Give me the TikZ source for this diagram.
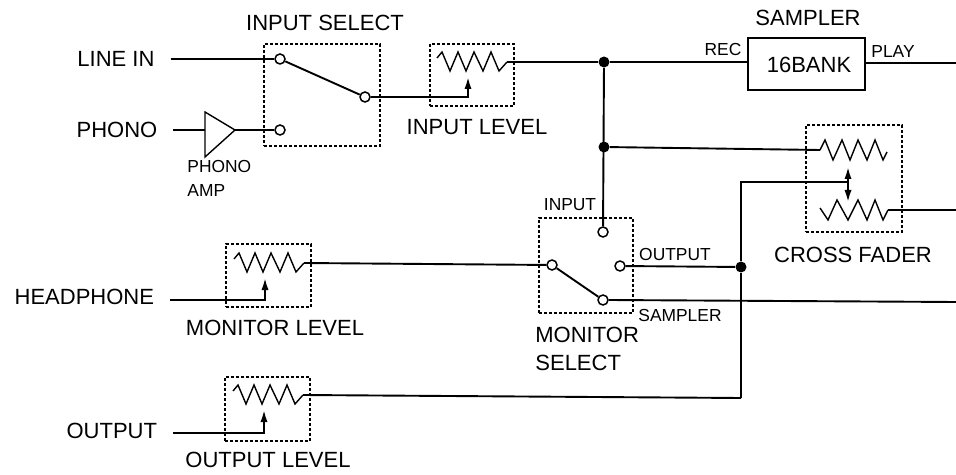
\documentclass[tikz,border=0pt]{standalone}
\usepackage{fontspec}
\setsansfont{Liberation Sans}
\usetikzlibrary{arrows,calc,arrows.meta,positioning}

\tikzset{
    wire/.style={line width=0.95pt},
    zig/.style={line width=0.7pt, line join=miter},
    unit/.style={draw, line width=0.85pt, dash pattern=on 1.5pt off 1pt, inner sep=0},
    contact/.style={circle, draw, line width=0.75pt, fill=white, minimum size=5pt, inner sep=0},
    junction/.style={circle, fill=black, minimum size=5.5pt, inner sep=0},
    big/.style={font=\sffamily\fontsize{11}{13}\selectfont, inner sep=0},
    small/.style={font=\sffamily\fontsize{8.7}{11}\selectfont, inner sep=0},
    source/.style={big, outer xsep=8pt},
}

\begin{document}
\begin{tikzpicture}[>={Latex[length=6pt,width=3.6pt]}, x=0.5pt, y=-0.5pt]
    \useasboundingbox (0,0) rectangle (956,475);
    % zigzag with lead-in (#1 in), lead-out (#1 out) and wiper point (#1 w)
    \newcommand{\resistor}[3]{
        \coordinate (#1 in) at (#2,#3);
        \coordinate (#1 out) at ($(#1 in) + (70,4)$);
        \coordinate (#1 w) at ($(#1 in) + (31,19)$);
        \draw[zig] (#1 in) -- ++(5,-6) -- ++(8,19) -- ++(8,-19) -- ++(8,19) -- ++(8,-19)
            -- ++(9,19) -- ++(8,-19) -- ++(8,19) -- (#1 out);
    }

    % dashed units
    \node[unit, minimum width=58pt, minimum height=51pt] (inselect) at (322,95) {};
    \node[unit, minimum width=42pt, minimum height=31pt] (inlevel) at (472,75) {};
    \node[unit, minimum width=48pt, minimum height=53.5pt] (fader) at (854,178.5) {};
    \node[unit, minimum width=47pt, minimum height=47.5pt] (monselect) at (586,265.5) {};
    \node[unit, minimum width=42.5pt, minimum height=31.5pt] (monlevel) at (268.5,275.5) {};
    \node[unit, minimum width=42.5pt, minimum height=32pt] (outlevel) at (267.5,409) {};

    % input section
    \node[source] (linein) at (116,59) {LINE IN};
    \node[source] (phono) at (117,130) {PHONO};
    \node[small, align=left, anchor=north west] (phonoamp) at (187,160) {PHONO\\[1pt]AMP};
    \node[big] (inselecttxt) at (325,23) {INPUT SELECT};
    \node[contact] (isline) at (280,59) {};
    \node[contact] (isphono) at (280,130) {};
    \node[contact] (isout) at (365,97) {};
    \coordinate (ampin) at (205,130);
    \coordinate (amptip) at (235,130);
    \draw[zig] (ampin |- 0,112) -- (amptip) -- (ampin |- 0,157) -- cycle;
    \draw[wire] (linein) -- (isline);
    \draw[wire] (phono) -- (ampin);
    \draw[wire] (amptip) -- (isphono);
    \draw[wire] (isline) -- (isout);

    \resistor{il}{437}{58}
    \node[big] (inleveltxt) at (477,127) {INPUT LEVEL};
    \draw[wire,->] (isout) -| (il w);

    % sampler
    \node[draw, line width=0.85pt, minimum width=58.5pt, minimum height=26pt, inner sep=0] (bank) at (806.5,64) {};
    \node[big] (banktxt) at (809,65) {16BANK};
    \node[big] (samplertxt) at (808,18) {SAMPLER};
    \node[small] (rectxt) at (723,50) {REC};
    \node[small] (playtxt) at (893,52) {PLAY};
    \coordinate (playout) at (956,63);
    \coordinate (bankin) at (bank.west |- 0,62);
    \node[junction] (jtop) at (604,62) {};
    \node[junction] (jmid) at (604,147) {};
    \draw[wire] (il out) -- (jtop);
    \draw[wire] (jtop) -- (bankin);
    \draw[wire] (bank.east |- playout) -- (playout);

    % cross fader
    \coordinate (cfin) at (820,150);
    \coordinate (cfout) at (888,210);
    \coordinate (cftap) at (848,182);
    \coordinate (cfup) at (848,167);
    \coordinate (cfdown) at (848,202);
    \coordinate (cfright) at (956,210);
    \draw[zig] (cfin) -- ++(5,-10) -- ++(8,20) -- ++(9,-20) -- ++(8,20) -- ++(8,-20) -- ++(9,20) -- ++(8,-20) -- ++(8,20) -- ++(4,-8);
    \draw[zig] (820,208) -- ++(8,12) -- ++(9,-20) -- ++(11,20) -- ++(10,-20) -- ++(9,20) -- ++(8,-20) -- ++(8,20) -- (cfout);
    \draw[wire] (jmid) -- (cfin);
    \draw[wire] (cfout) -- (cfright);
    \draw[wire,<->] (cfup) -- (cfdown);
    \node[big] (fadertxt) at (853,255) {CROSS FADER};

    % monitor select
    \node[contact] (msinput) at (603,232) {};
    \node[contact] (msin) at (552,265) {};
    \node[contact] (msoutput) at (620,266) {};
    \node[contact] (mssampler) at (603,300) {};
    \node[junction] (jout) at (741,267) {};
    \coordinate (sampout) at (956,302);
    \coordinate (outbend) at (741,398);
    \draw[wire] (jtop) -- (msinput);
    \draw[wire] (msin) -- (mssampler);
    \draw[wire] (msoutput) -- (jout);
    \draw[wire] (mssampler.east) -- (sampout);
    \draw[wire] (jout) |- (cftap);
    \draw[wire] (jout) -- (outbend);
    \node[small] (inputtxt) at (570,205) {INPUT};
    \node[small] (outputtxt) at (675,255) {OUTPUT};
    \node[small] (samptxt) at (680,316) {SAMPLER};
    \node[big, align=left, anchor=north west] (monseltxt) at (535,327) {MONITOR\\[1pt]SELECT};

    % monitor and output level
    \node[source, anchor=east] (headphone) at (170,297) {HEADPHONE};
    \node[source, anchor=east] (output) at (173,431) {OUTPUT};
    \resistor{ml}{234}{259}
    \resistor{ol}{233}{391}
    \draw[wire] (ml out) -- (msin);
    \draw[wire,->] ([yshift=-1.5pt]headphone.east) -| (ml w);
    \draw[wire,->] ([yshift=-1pt]output.east) -| (ol w);
    \draw[wire] (ol out) -- (outbend);
    \node[big] (monleveltxt) at (275,328) {MONITOR LEVEL};
    \node[big] (outleveltxt) at (268,460) {OUTPUT LEVEL};
\end{tikzpicture}
\end{document}
